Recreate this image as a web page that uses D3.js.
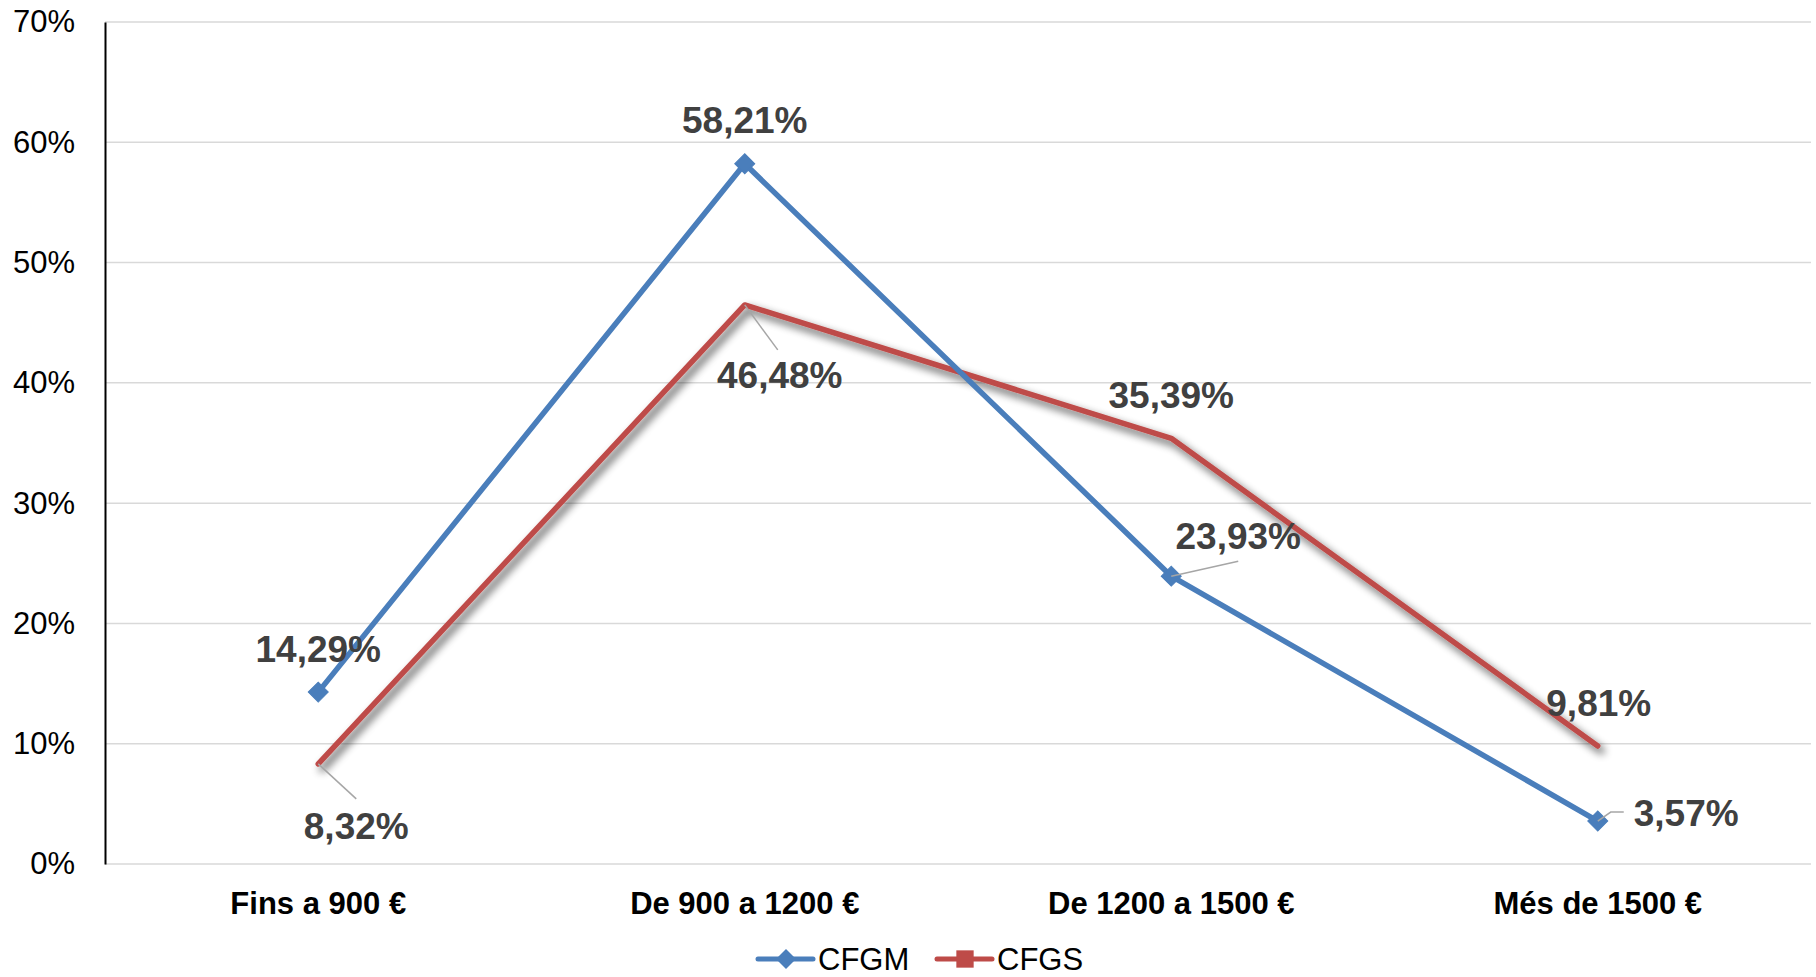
<!DOCTYPE html>
<html>
<head>
<meta charset="utf-8">
<script src="https://cdn.jsdelivr.net/npm/d3@7"></script>
<style>
  html, body { margin: 0; padding: 0; background: #fff; }
  svg { display: block; font-family: "Liberation Sans", Arial, sans-serif; }
</style>
</head>
<body>
<svg id="chart" width="1816" height="977"></svg>
<script>
// ---- data ----
const categories = ["Fins a 900 €", "De 900 a 1200 €", "De 1200 a 1500 €", "Més de 1500 €"];
const cfgm = [14.29, 58.21, 23.93, 3.57];
const cfgs = [8.32, 46.48, 35.39, 9.81];
const seriesNames = ["CFGM", "CFGS"];
const yTicks = [0, 10, 20, 30, 40, 50, 60, 70];

// ---- label layout (style only) ----
const labelLayout = {
  CFGM: [
    {dx: 0, dy: -30, anchor: "middle"},
    {dx: 0, dy: -31, anchor: "middle"},
    {dx: 67, dy: -27, anchor: "middle", leader: [[0,0],[67,-15]]},
    {dx: 36, dy: 5, anchor: "start", leader: [[0,0],[13,-9],[26,-9]]}
  ],
  CFGS: [
    {dx: 38, dy: 75, anchor: "middle", leader: [[0,0],[38,35]]},
    {dx: 35, dy: 83, anchor: "middle", leader: [[0,0],[33,45]]},
    {dx: 0, dy: -30, anchor: "middle"},
    {dx: 1, dy: -30, anchor: "middle"}
  ]
};

const colors = {CFGM: "#4A7EBB", CFGS: "#BE4B48"};

const svg = d3.select("#chart");
const margin = {left: 105, right: 5, top: 22, bottom: 113};
const W = 1816, H = 977;

const x = d3.scaleBand().domain(categories).range([margin.left, W - margin.right]).padding(0);
const y = d3.scaleLinear().domain([0, 70]).range([H - margin.bottom, margin.top]);
const cx = c => x(c) + x.bandwidth() / 2;

// shadow filter
const defs = svg.append("defs");
const f = defs.append("filter").attr("id", "shadow").attr("x", "-10%").attr("y", "-10%").attr("width", "120%").attr("height", "120%");
f.append("feGaussianBlur").attr("in", "SourceAlpha").attr("stdDeviation", 4.5).attr("result", "b");
f.append("feOffset").attr("in", "b").attr("dx", 4).attr("dy", 5).attr("result", "o");
f.append("feComponentTransfer").attr("in", "o").attr("result", "oa")
  .append("feFuncA").attr("type", "linear").attr("slope", 0.7);
const m = f.append("feMerge");
m.append("feMergeNode").attr("in", "oa");
m.append("feMergeNode").attr("in", "SourceGraphic");

// gridlines
svg.append("g").selectAll("line").data(yTicks).join("line")
  .attr("x1", margin.left).attr("x2", W - margin.right)
  .attr("y1", d => y(d)).attr("y2", d => y(d))
  .attr("stroke", "#d9d9d9").attr("stroke-width", 1.5);

// y axis
const yAxis = d3.axisLeft(y).tickValues(yTicks).tickFormat(d => d + "%").tickSize(0).tickPadding(30);
const gy = svg.append("g").attr("transform", `translate(${margin.left},0)`).call(yAxis);
gy.select(".domain").attr("stroke", "#000").attr("stroke-width", 2);
gy.selectAll("text").attr("font-size", 31).attr("fill", "#000")
  .attr("font-family", "Liberation Sans, Arial, sans-serif");

// x axis labels
const xAxis = d3.axisBottom(x).tickSize(0).tickPadding(0);
const gx = svg.append("g").attr("transform", `translate(0,${y(0)})`).call(xAxis);
gx.select(".domain").remove();
gx.selectAll("text").attr("font-size", 31).attr("font-weight", "bold").attr("fill", "#000")
  .attr("font-family", "Liberation Sans, Arial, sans-serif")
  .attr("dy", null).attr("y", 50);

// lines
const line = d3.line().x((d, i) => cx(categories[i])).y(d => y(d));

svg.append("path").datum(cfgs).attr("d", line)
  .attr("fill", "none").attr("stroke", colors.CFGS).attr("stroke-width", 5.5)
  .attr("stroke-linejoin", "round").attr("stroke-linecap", "round")
  .attr("filter", "url(#shadow)");

svg.append("path").datum(cfgm).attr("d", line)
  .attr("fill", "none").attr("stroke", colors.CFGM).attr("stroke-width", 5.5)
  .attr("stroke-linejoin", "round").attr("stroke-linecap", "round");

// diamond markers for CFGM
svg.append("g").selectAll("path").data(cfgm).join("path")
  .attr("d", d3.symbol().type(d3.symbolSquare).size(200))
  .attr("transform", (d, i) => `translate(${cx(categories[i])},${y(d)}) rotate(45)`)
  .attr("fill", colors.CFGM).attr("stroke", colors.CFGM).attr("stroke-width", 1);

// data labels
function drawLabels(values, name) {
  const layout = labelLayout[name];
  values.forEach((v, i) => {
    const px = cx(categories[i]), py = y(v);
    const L = layout[i];
    if (L.leader) {
      svg.append("polyline")
        .attr("points", L.leader.map(p => (px + p[0]) + "," + (py + p[1])).join(" "))
        .attr("fill", "none").attr("stroke", "#a6a6a6").attr("stroke-width", 1.5);
    }
    svg.append("text")
      .attr("x", px + L.dx).attr("y", py + L.dy)
      .attr("text-anchor", L.anchor)
      .attr("font-size", 37).attr("font-weight", "bold").attr("fill", "#404040")
      .text(d3.format(".2f")(v).replace(".", ",") + "%");
  });
}
drawLabels(cfgm, "CFGM");
drawLabels(cfgs, "CFGS");

// legend
const legend = svg.append("g");
const legendItems = [
  {name: seriesNames[0], x0: 758, type: "diamond"},
  {name: seriesNames[1], x0: 937, type: "square"}
];
const ly = 959;
legendItems.forEach(it => {
  const col = colors[it.name];
  legend.append("line").attr("x1", it.x0).attr("x2", it.x0 + 55).attr("y1", ly).attr("y2", ly)
    .attr("stroke", col).attr("stroke-width", 5).attr("stroke-linecap", "round");
  if (it.type === "diamond") {
    legend.append("path").attr("d", d3.symbol().type(d3.symbolSquare).size(200))
      .attr("transform", `translate(${it.x0 + 28},${ly}) rotate(45)`).attr("fill", col);
  } else {
    legend.append("path").attr("d", d3.symbol().type(d3.symbolSquare).size(300))
      .attr("transform", `translate(${it.x0 + 28},${ly})`).attr("fill", col);
  }
  legend.append("text").attr("x", it.x0 + 60).attr("y", ly + 11)
    .attr("font-size", 31).attr("fill", "#000").text(it.name);
});
</script>
</body>
</html>
